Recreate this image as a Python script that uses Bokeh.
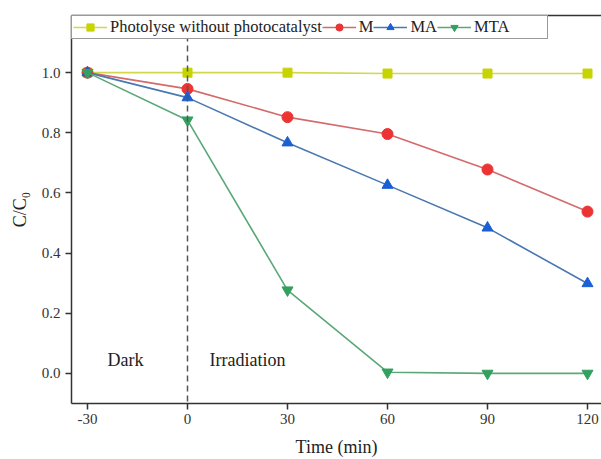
from bokeh.plotting import figure
from bokeh.models import Range1d, Span, Legend, LegendItem, LinearAxis, FixedTicker, Label, CustomJSTickFormatter
from bokeh.embed import file_html
from bokeh.resources import INLINE

time = [-30, 0, 30, 60, 90, 120]
photolyse = [1.0, 1.0, 1.0, 0.997, 0.997, 0.997]
m_vals = [1.0, 0.946, 0.852, 0.796, 0.678, 0.538]
ma_vals = [1.0, 0.917, 0.767, 0.626, 0.484, 0.299]
mta_vals = [1.0, 0.842, 0.277, 0.004, 0.0, 0.0]
x_ticks = [-30, 0, 30, 60, 90, 120]
y_ticks = [0.0, 0.2, 0.4, 0.6, 0.8, 1.0]

FONT = "Liberation Serif"

p = figure(width=601, height=459, output_backend="svg", toolbar_location=None,
           x_range=Range1d(-34.8, 124.2), y_range=Range1d(-0.1, 1.19),
           min_border_left=71, min_border_right=0, min_border_top=15, min_border_bottom=56)
p.outline_line_color = None
p.xgrid.visible = False
p.ygrid.visible = False

for ax in (p.xaxis[0], p.yaxis[0]):
    ax.axis_line_width = 1.5
    ax.axis_line_color = "#333333"
    ax.major_tick_line_width = 1.5
    ax.major_tick_line_color = "#333333"
    ax.major_tick_out = 6
    ax.major_tick_in = 0
    ax.minor_tick_line_color = None
    ax.major_label_text_font = FONT
    ax.major_label_text_font_size = "15px"
    ax.major_label_text_color = "#333333"
    ax.axis_label_text_font = FONT
    ax.axis_label_text_font_style = "normal"
    ax.axis_label_text_font_size = "18px"
    ax.axis_label_text_color = "#222222"

p.xaxis.ticker = FixedTicker(ticks=x_ticks)
p.yaxis.ticker = FixedTicker(ticks=y_ticks)
p.xaxis.formatter = CustomJSTickFormatter(code="return tick.toFixed(0);")
p.yaxis.formatter = CustomJSTickFormatter(code="return tick.toFixed(1);")
p.xaxis.axis_label = "Time (min)"
p.yaxis.axis_label = "C/C\u2080"
p.xaxis.major_label_standoff = 4
p.yaxis.major_label_standoff = 5
p.xaxis.axis_label_standoff = 10
p.yaxis.axis_label_standoff = 9

top = LinearAxis(ticker=FixedTicker(ticks=[]), major_label_text_font_size="0px",
                 axis_line_width=1.5, axis_line_color="#333333",
                 major_tick_line_color=None, minor_tick_line_color=None)
p.add_layout(top, "above")

p.add_layout(Span(location=0, dimension="height", line_dash="6 4",
                  line_color="#555555", line_width=1.5))

series = [
    ("Photolyse without photocatalyst", photolyse, "#d2d84a", "#c8d400", "square", 9),
    ("M", m_vals, "#d46a6a", "#ec3434", "circle", 11),
    ("MA", ma_vals, "#4a78b0", "#1a5fd4", "triangle", 11),
    ("MTA", mta_vals, "#5aa878", "#34a060", "inverted_triangle", 11),
]
items = []
for label, vals, lc, mc, mk, sz in series:
    l = p.line(time, vals, line_color=lc, line_width=1.6)
    s = p.scatter(time, vals, marker=mk, size=sz, fill_color=mc, line_color=mc)
    items.append(LegendItem(label=label, renderers=[l, s]))

blank = p.line([], [], line_alpha=0)
items.append(LegendItem(label=" ", renderers=[blank]))

legend = Legend(items=items, orientation="horizontal", location="top_left",
                margin=0, padding=1, spacing=0, glyph_width=34, glyph_height=18,
                label_standoff=3, label_width=0, label_text_font=FONT, label_text_font_size="16.5px",
                label_text_color="#222222", label_height=18,
                border_line_color="#333333", border_line_width=1.5,
                background_fill_alpha=1.0)
p.add_layout(legend, "center")

p.add_layout(Label(x=-18.6, y=0.045, text="Dark", text_font=FONT, text_font_size="18px",
                   text_align="center", text_baseline="middle", text_color="#222222"))
p.add_layout(Label(x=18, y=0.045, text="Irradiation", text_font=FONT, text_font_size="18px",
                   text_align="center", text_baseline="middle", text_color="#222222"))

open("out.html", "w").write(file_html(p, INLINE))
